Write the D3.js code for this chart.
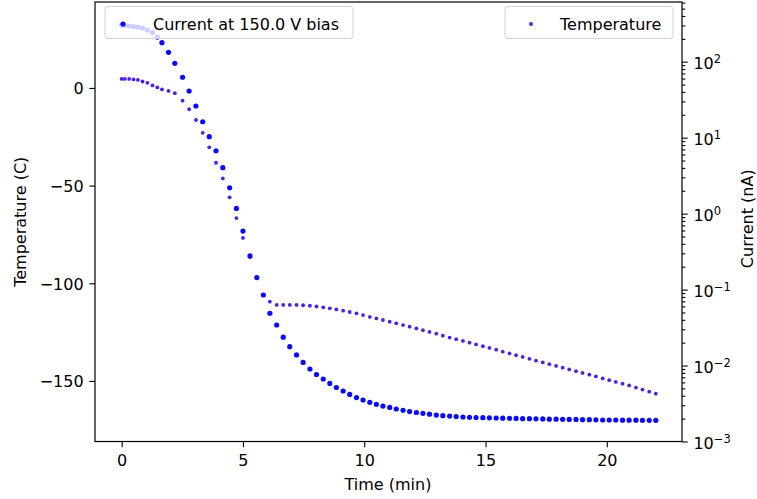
<!DOCTYPE html>
<html>
<head>
<meta charset="utf-8">
<script src="https://cdn.jsdelivr.net/npm/d3@7"></script>
<style>
  html, body { margin: 0; padding: 0; background: #fff; }
  svg { display: block; font-family: "DejaVu Sans", sans-serif; }
</style>
</head>
<body>
<svg id="chart" width="757" height="499"></svg>
<script>
// ---- data ----
const timeMin = [
  0, 0.13, 0.31, 0.49, 0.67, 0.86, 1.06, 1.27, 1.47, 1.66,
  1.93, 2.19, 2.51, 2.78, 3.06, 3.34, 3.61, 3.89, 4.17, 4.45,
  4.73, 5.00, 5.29, 5.57, 5.84, 6.11, 6.39, 6.66,
  6.93, 7.21, 7.48, 7.76, 8.03, 8.31, 8.58, 8.85, 9.13, 9.40,
  9.68, 9.95, 10.23, 10.50, 10.77, 11.05, 11.32, 11.60, 11.87, 12.15,
  12.42, 12.69, 12.97, 13.24, 13.52, 13.79, 14.07, 14.34, 14.61, 14.89,
  15.16, 15.44, 15.71, 15.99, 16.26, 16.53, 16.81, 17.08, 17.36, 17.63,
  17.91, 18.18, 18.45, 18.73, 19.00, 19.28, 19.55, 19.83, 20.10, 20.37,
  20.65, 20.92, 21.20, 21.47, 21.75, 22.02
];
const temperatureC = [
  4.6, 4.6, 4.6, 4.35, 4.1, 3.3, 2.6, 1.3, 0.26, -0.77,
  -1.5, -2.7, -6.5, -10.9, -16.4, -23.0, -30.4, -38.3, -46.3, -56.0,
  -66.6, -76.8, -86.5, -97.3, -106.0, -109.4, -111.1, -111.1,
  -111.1, -111.1, -111.25, -111.5, -111.9, -112.3, -112.8, -113.4, -114.0, -114.7,
  -115.4, -116.3, -117.2, -118.0, -118.8, -119.7, -120.5, -121.4, -122.2, -123.1,
  -124.0, -124.9, -125.8, -126.8, -127.8, -128.6, -129.5, -130.4, -131.3, -132.2,
  -133.1, -134.0, -135.0, -135.9, -136.8, -137.7, -138.7, -139.6, -140.5, -141.4,
  -142.3, -143.2, -144.1, -145.0, -145.9, -146.8, -147.7, -148.7, -149.6, -150.5,
  -151.4, -152.3, -153.4, -154.4, -155.5, -156.5
];
const currentNA = [
  304, 300, 295, 290, 286, 278, 261, 242, 211, 178,
  133, 95.3, 62.4, 41.1, 26.1, 16.2, 10.3, 6.73, 4.03, 2.19,
  1.17, 0.590, 0.277, 0.144, 0.0849, 0.0488, 0.0342, 0.0236,
  0.0177, 0.0138, 0.0110, 0.00900, 0.00762, 0.00665, 0.00581, 0.00514, 0.00462, 0.00416,
  0.00379, 0.00352, 0.00328, 0.00309, 0.00293, 0.00281, 0.00268, 0.00258, 0.00248, 0.00241,
  0.00235, 0.00229, 0.00223, 0.00219, 0.00216, 0.00213, 0.00210, 0.00208, 0.00207, 0.00206,
  0.00205, 0.00204, 0.00203, 0.00202, 0.00201, 0.00200, 0.001995, 0.00199, 0.00198, 0.00197,
  0.00197, 0.00196, 0.00195, 0.00195, 0.00194, 0.00194, 0.00193, 0.00192, 0.00192, 0.00192,
  0.00191, 0.00191, 0.00191, 0.00190, 0.00190, 0.00190
];
const xTicks = [0, 5, 10, 15, 20];
const tempTicks = [0, -50, -100, -150];
const currentTicks = [1e-3, 1e-2, 1e-1, 1e0, 1e1, 1e2];
const currentTickExp = ["\u22123", "\u22122", "\u22121", "0", "1", "2"];
const seriesNames = ["Current at 150.0 V bias", "Temperature"];

// ---- layout ----
const svg = d3.select("#chart");
const L = 95, R = 682, T = 2, B = 441.5;
const FS = 16;

const x = d3.scaleLinear().domain([-1.1, 23.1]).range([L, R]);
const yT = d3.scaleLinear().domain([-181, 44]).range([B, T]);
const yI = d3.scaleLog().domain([1e-3, 611]).range([B, T]);

const tempColor = "#4a22e6";
const curColor = "#0a0af5";

const pts = timeMin.map((t, i) => ({ t, T: temperatureC[i], I: currentNA[i] }));

const clip = svg.append("defs").append("clipPath").attr("id", "clip")
  .append("rect").attr("x", L).attr("y", T).attr("width", R - L).attr("height", B - T);

const plot = svg.append("g").attr("clip-path", "url(#clip)");

// temperature points (left axis)
plot.append("g").selectAll("circle").data(pts).join("circle")
  .attr("cx", d => x(d.t)).attr("cy", d => yT(d.T)).attr("r", 1.9)
  .attr("fill", tempColor);

// current points (right axis)
plot.append("g").selectAll("circle").data(pts).join("circle")
  .attr("cx", d => x(d.t)).attr("cy", d => yI(d.I)).attr("r", 2.6)
  .attr("fill", curColor);

// ---- axes ----
const major = 5.7, minor = 3.3, pad = 5.7;

function styleAxis(g) {
  g.select(".domain").remove();
  g.selectAll(".tick line").attr("stroke", "#000").attr("stroke-width", 1.1);
  g.selectAll(".tick text").attr("fill", "#000").style("font-size", FS + "px")
    .style("font-family", "'DejaVu Sans', sans-serif");
}

const fmtMinus = d => (d < 0 ? "\u2212" + Math.abs(d) : String(d));

svg.append("g").attr("transform", `translate(0,${B})`)
  .call(d3.axisBottom(x).tickValues(xTicks).tickSize(major).tickPadding(pad).tickFormat(fmtMinus))
  .call(styleAxis)
  .call(g => g.selectAll(".tick text").attr("dy", null).attr("y", 24.5));

svg.append("g").attr("transform", `translate(${L},0)`)
  .call(d3.axisLeft(yT).tickValues(tempTicks).tickSize(major).tickPadding(pad).tickFormat(fmtMinus))
  .call(styleAxis)
  .call(g => g.selectAll(".tick text").attr("dy", "0.36em"));

// right log axis: minor ticks
const minorVals = [];
currentTicks.forEach(dec => { for (let m = 2; m <= 9; m++) { const v = dec * m; if (v <= 611) minorVals.push(v); } });
svg.append("g").attr("transform", `translate(${R},0)`)
  .call(d3.axisRight(yI).tickValues(minorVals).tickSize(minor).tickFormat(() => ""))
  .call(styleAxis);

const rAxis = svg.append("g").attr("transform", `translate(${R},0)`)
  .call(d3.axisRight(yI).tickValues(currentTicks).tickSize(major).tickPadding(pad).tickFormat(() => ""))
  .call(styleAxis);
rAxis.selectAll(".tick").each(function(d, i) {
  const t = d3.select(this).select("text").attr("x", major + pad).attr("dy", "0.45em")
    .attr("text-anchor", "start");
  t.text(null);
  t.append("tspan").text("10");
  t.append("tspan").attr("dy", "-0.55em").style("font-size", "11.5px").text(currentTickExp[i]);
});

// frame
svg.append("rect").attr("x", L).attr("y", T).attr("width", R - L).attr("height", B - T)
  .attr("fill", "none").attr("stroke", "#000").attr("stroke-width", 1.2);

// axis labels
svg.append("text").attr("x", (L + R) / 2 - 0.5).attr("y", 490).attr("text-anchor", "middle")
  .style("font-size", FS + "px").text("Time (min)");
svg.append("text").attr("transform", `translate(26,${(T + B) / 2}) rotate(-90)`)
  .attr("text-anchor", "middle").style("font-size", FS + "px").text("Temperature (C)");
svg.append("text").attr("transform", `translate(753,${(T + B) / 2 - 3}) rotate(-90)`)
  .attr("text-anchor", "middle").style("font-size", FS + "px").text("Current (nA)");

// legends
function legend(x0, w, mx, tx, name, color, r) {
  const g = svg.append("g");
  g.append("rect").attr("x", x0).attr("y", 6.5).attr("width", w).attr("height", 32).attr("rx", 3)
    .attr("fill", "#fff").attr("fill-opacity", 0.8).attr("stroke", "#d0d0d0").attr("stroke-width", 1);
  g.append("circle").attr("cx", mx).attr("cy", 24).attr("r", r).attr("fill", color);
  g.append("text").attr("x", tx).attr("y", 29.5).style("font-size", FS + "px").text(name);
}
legend(105, 248, 123, 153, seriesNames[0], curColor, 2.6);
legend(505, 168, 531, 560, seriesNames[1], tempColor, 1.9);
</script>
</body>
</html>
